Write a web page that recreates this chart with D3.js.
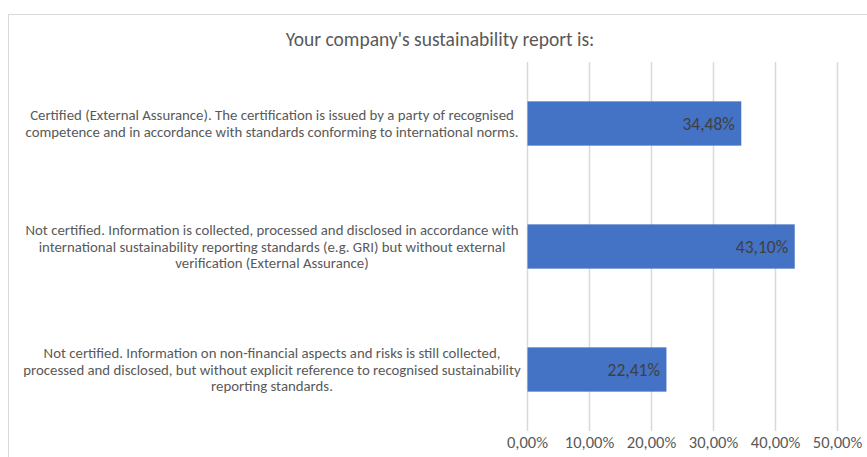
<!DOCTYPE html>
<html>
<head>
<meta charset="utf-8">
<script src="https://cdn.jsdelivr.net/npm/d3@7"></script>
<style>
  html, body { margin: 0; padding: 0; background: #fff; }
  svg { display: block; font-family: "Carlito", "Liberation Sans", "Open Sans", sans-serif; }
</style>
</head>
<body>
<svg id="chart" width="867" height="457"></svg>
<script>
// Survey answers (each label is split into its wrapped lines)
const categories = [
  "Certified (External Assurance)",
  "Not certified, international standards",
  "Not certified, no explicit standards"
];
const categoryLines = [
  ["Certified (External Assurance). The certification is issued by a party of recognised",
   "competence and in accordance with standards conforming to international norms."],
  ["Not certified. Information is collected, processed and disclosed in accordance with",
   "international sustainability reporting standards (e.g. GRI) but without external",
   "verification (External Assurance)"],
  ["Not certified. Information on non-financial aspects and risks is still collected,",
   "processed and disclosed, but without explicit reference to recognised sustainability",
   "reporting standards."]
];
const values = [0.3448, 0.4310, 0.2241];
const tickValues = [0, 0.1, 0.2, 0.3, 0.4, 0.5];
const title = "Your company's sustainability report is:";

const svg = d3.select("#chart");
const fmt = v => (v * 100).toFixed(2).replace(".", ",") + "%";

// chart frame
svg.append("rect")
  .attr("x", 8.5).attr("y", 14.5)
  .attr("width", 900).attr("height", 500)
  .attr("fill", "#fff").attr("stroke", "#d9d9d9");

svg.append("text")
  .attr("x", 440).attr("y", 46)
  .attr("text-anchor", "middle")
  .attr("font-size", 19.5)
  .attr("fill", "#595959")
  .text(title);

const x = d3.scaleLinear().domain([0, 0.5]).range([527, 837]);
const y = d3.scaleBand().domain(categories).range([62, 431])
  .paddingInner(0.64).paddingOuter(0.32);

// vertical gridlines
svg.append("g").selectAll("line").data(tickValues).join("line")
  .attr("x1", d => x(d) + 0.5).attr("x2", d => x(d) + 0.5)
  .attr("y1", 62).attr("y2", 431)
  .attr("stroke", "#d9d9d9").attr("stroke-width", 1.5);

// x axis tick labels
const xAxis = d3.axisBottom(x).tickValues(tickValues).tickFormat(fmt).tickSize(0).tickPadding(0);
const gx = svg.append("g").attr("transform", "translate(0,433)").call(xAxis);
gx.select(".domain").remove();
gx.selectAll("text")
  .attr("dy", "0.9em")
  .attr("font-size", 16.5)
  .attr("font-family", "Carlito, 'Liberation Sans', sans-serif")
  .attr("fill", "#595959");

// bars
svg.append("g").selectAll("rect").data(categories).join("rect")
  .attr("x", x(0) + 0.5)
  .attr("y", d => y(d))
  .attr("width", (d, i) => x(values[i]) - x(0))
  .attr("height", y.bandwidth())
  .attr("fill", "#4472c4");

// value labels
svg.append("g").selectAll("text").data(categories).join("text")
  .attr("x", (d, i) => x(values[i]) - 6)
  .attr("y", d => y(d) + y.bandwidth() / 2)
  .attr("dy", "0.35em")
  .attr("text-anchor", "end")
  .attr("font-size", 17.5)
  .attr("fill", "#404040")
  .text((d, i) => fmt(values[i]));

// category labels, centred lines
const lineH = 16.5;
const labels = svg.append("g").selectAll("text").data(categories).join("text")
  .attr("text-anchor", "middle")
  .attr("font-size", 14.8)
  .attr("fill", "#595959");
labels.each(function(d, i) {
  const lines = categoryLines[i];
  const cy = y(d) + y.bandwidth() / 2;
  const y0 = cy - (lines.length - 1) * lineH / 2;
  d3.select(this).selectAll("tspan").data(lines).join("tspan")
    .attr("x", 272)
    .attr("y", (l, k) => y0 + k * lineH)
    .attr("dy", "0.35em")
    .text(l => l);
});
</script>
</body>
</html>
